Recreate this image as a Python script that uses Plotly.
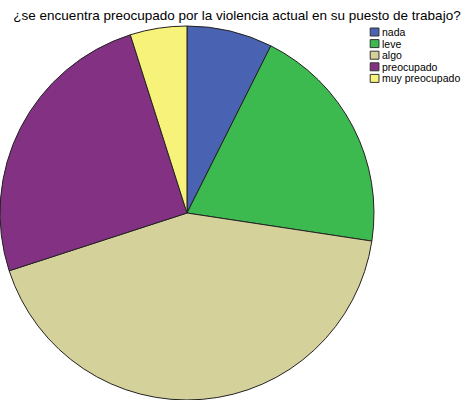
import plotly.graph_objects as go

# Respuestas (porcentaje aproximado)
categories = ["nada", "leve", "algo", "preocupado", "muy preocupado"]
values = [7.4, 20.0, 42.6, 25.1, 4.9]
colors = ["#4a62b2", "#3cb94f", "#d5d19b", "#833283", "#f6f27a"]

fig = go.Figure()

fig.add_trace(go.Pie(
    labels=categories,
    values=values,
    sort=False,
    direction="clockwise",
    rotation=0,
    textinfo="none",
    hoverinfo="label+percent",
    showlegend=False,
    marker=dict(colors=colors, line=dict(color="#222222", width=1)),
    domain=dict(x=[0, 0.789], y=[0, 0.935]),
))

# Leyenda dibujada a mano (cuadros pequeños como en el original)
for i, (cat, col) in enumerate(zip(categories, colors)):
    y0 = 0.93 - i * 0.029
    fig.add_shape(type="rect", xref="paper", yref="paper",
                  x0=0.781, x1=0.7995, y0=y0 - 0.02, y1=y0,
                  fillcolor=col, line=dict(color="#333333", width=1))
    fig.add_annotation(x=0.802, y=y0 - 0.01, xref="paper", yref="paper",
                       text=cat, showarrow=False, xanchor="left", yanchor="middle",
                       font=dict(size=10.5, color="#000000"))

fig.update_layout(
    width=474,
    height=400,
    margin=dict(l=0, r=0, t=0, b=0),
    paper_bgcolor="white",
    plot_bgcolor="white",
    font=dict(family="Liberation Sans, Arial, sans-serif", color="#000000"),
    title=dict(
        text="¿se encuentra preocupado por la violencia actual en su puesto de trabajo?",
        x=0.5, xanchor="center",
        y=0.9625, yanchor="middle",
        font=dict(size=13.5, color="#000000"),
    ),
)

# quitar el margen por defecto del body para que la figura empiece en (0, 0)
fig.write_html(
    "out.html",
    config={"displayModeBar": False},
    post_script="document.body.style.margin='0';",
)
